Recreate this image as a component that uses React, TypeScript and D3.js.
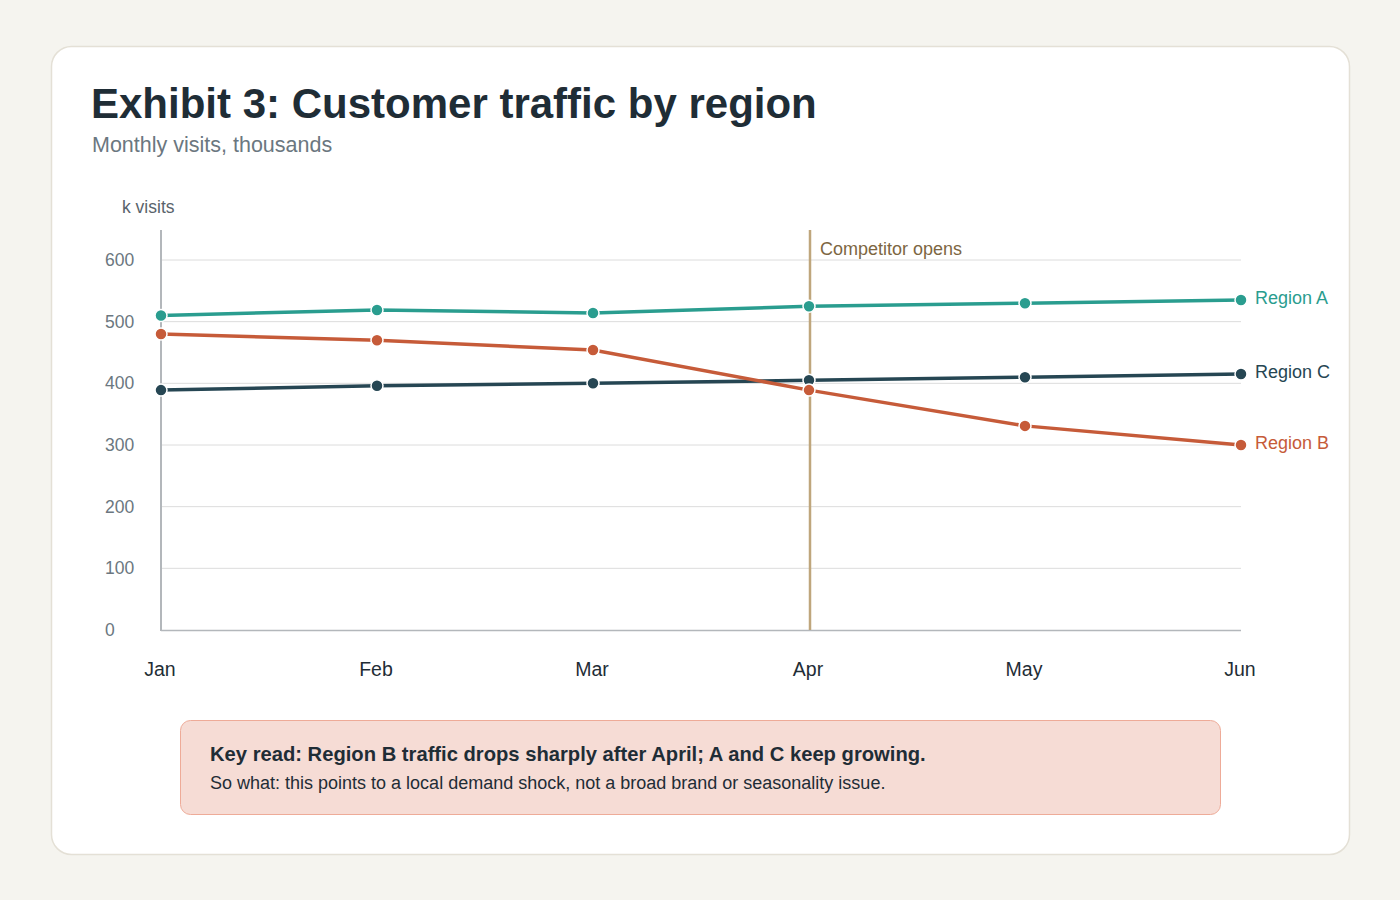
import * as d3 from "d3";

const months = ["Jan", "Feb", "Mar", "Apr", "May", "Jun"];
const regionA = [510, 519, 514, 525, 530, 535];
const regionB = [480, 470, 454, 389, 331, 300];
const regionC = [389, 396, 400, 405, 410, 415];
const yTicks = [0, 100, 200, 300, 400, 500, 600];
const eventMonth = "Apr";

const series = [
    { name: "Region A", values: regionA, color: "#2a9d8f" },
    { name: "Region C", values: regionC, color: "#264653" },
    { name: "Region B", values: regionB, color: "#c65b39" },
];

const FONT = "'Liberation Sans', Arial, Helvetica, sans-serif";

export default function App() {
    const W = 1400, H = 900;
    const x = d3.scalePoint<string>().domain(months).range([161, 1241]);
    const y = d3.scaleLinear().domain([0, 600]).range([630, 260]);
    const line = d3.line<number>()
        .x((_, i) => x(months[i])!)
        .y(d => y(d));

    const ex = x(eventMonth)! + 1;

    return (
        <svg width={W} height={H} style={{ position: "absolute", left: 0, top: 0, display: "block" }}
            fontFamily={FONT}>
            <rect x={0} y={0} width={W} height={H} fill="#f5f4ef" />
            <rect x={51.5} y={46.5} width={1298} height={808} rx={20} fill="#ffffff" stroke="#e4e0d6" strokeWidth={1.5} />

            <text x={91} y={118} fontSize={42} fontWeight="bold" fill="#1f2d36">Exhibit 3: Customer traffic by region</text>
            <text x={92} y={152} fontSize={21.5} fill="#6b7780">Monthly visits, thousands</text>
            <text x={122} y={213} fontSize={17.5} fill="#59636b">k visits</text>

            {/* grid */}
            {yTicks.filter(t => t > 0).map(t => (
                <line key={t} x1={161} x2={1241} y1={y(t)} y2={y(t)} stroke="#dcdcdc" strokeWidth={1} />
            ))}
            {yTicks.map(t => (
                <text key={t} x={105} y={y(t)} dy="0.35em" fontSize={17.5} fill="#6b7780">{t}</text>
            ))}

            {/* axes */}
            <line x1={161} x2={161} y1={230} y2={631} stroke="#b3b7bb" strokeWidth={2} />
            <line x1={161} x2={1241} y1={630.5} y2={630.5} stroke="#b3b7bb" strokeWidth={1.5} />
            {months.map(m => (
                <text key={m} x={x(m)! - 1} y={669} dy="0.35em" textAnchor="middle" fontSize={19.5} fill="#1f2d36">{m}</text>
            ))}

            {/* event marker */}
            <line x1={ex} x2={ex} y1={230} y2={630} stroke="#bfa67c" strokeWidth={2.5} />
            <text x={820} y={249} dy="0.35em" fontSize={18} fill="#7d6642">Competitor opens</text>

            {series.map(s => (
                <g key={s.name}>
                    <path d={line(s.values)!} fill="none" stroke={s.color} strokeWidth={3.5} />
                    {s.values.map((v, i) => (
                        <circle key={i} cx={x(months[i])} cy={y(v)} r={6} fill={s.color} stroke="#ffffff" strokeWidth={1.5} />
                    ))}
                    <text x={1255} y={y(s.values[s.values.length - 1]) - 2} dy="0.35em" fontSize={18} fill={s.color}>{s.name}</text>
                </g>
            ))}

            {/* callout */}
            <rect x={180.5} y={720.5} width={1040} height={94} rx={10} fill="#f6dcd5" stroke="#eeab98" strokeWidth={1} />
            <text x={210} y={754} dy="0.35em" fontSize={20.2} fontWeight="bold" fill="#1f2d36">Key read: Region B traffic drops sharply after April; A and C keep growing.</text>
            <text x={210} y={783} dy="0.35em" fontSize={18} fill="#1f2d36">So what: this points to a local demand shock, not a broad brand or seasonality issue.</text>
        </svg>
    );
}
